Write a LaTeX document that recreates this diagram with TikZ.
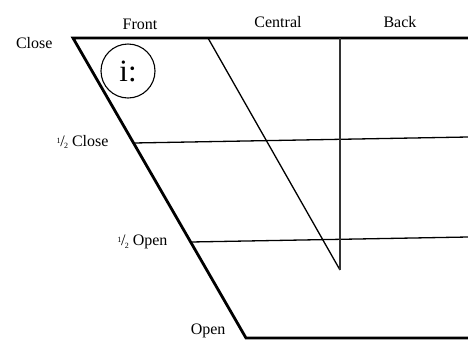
\documentclass[tikz,border=0pt]{standalone}
\usepackage{fontspec}
\setmainfont{Liberation Serif}
\usetikzlibrary{positioning}
\newcommand{\halfmark}{\raisebox{0.4ex}{\footnotesize 1}\kern-0.02em/\kern-0.05em\raisebox{-0.35ex}{\footnotesize 2}}
\begin{document}
\begin{tikzpicture}[x=1pt, y=-1pt, font=\fontsize{16}{18}\selectfont]
    \useasboundingbox [fill=white] (0,0) rectangle (468,341);
    \tikzset{frame/.style={line width=2.8pt, line cap=round}, grid/.style={line width=1.3pt}}

    \coordinate (closeL) at (73,38);
    \coordinate (closeR) at (468,38);
    \coordinate (openL) at (246,338);
    \coordinate (openR) at (468,338);
    \coordinate (hcloseL) at (133.5,143);
    \coordinate (hcloseR) at (468,137);
    \coordinate (hopenL) at (190.6,242);
    \coordinate (hopenR) at (468,237);
    \coordinate (centralT) at (208,38);
    \coordinate (backT) at (340,38);
    \coordinate (schwa) at (340,270);

    \draw [frame] (closeR) -- (closeL) -- (openL) -- (openR);
    \draw [grid] (hcloseL) -- (hcloseR);
    \draw [grid] (hopenL) -- (hopenR);
    \draw [grid] (centralT) -- (schwa);
    \draw [grid, black!80] (backT) -- (schwa);

    \node [draw, circle, line width=1.1pt, minimum size=54pt, inner sep=0pt, font=\fontsize{31}{34}\selectfont] (ivowel) at (128,71) {i:};

    \node (front) at (140,24) {Front};
    \node (central) at (278,22) {Central};
    \node (back) at (400,22) {Back};
    \node [anchor=east] (close) at (56,43) {Close};
    \node [anchor=east] (hclose) at (112,142) {\halfmark\ Close};
    \node [anchor=east] (hopen) at (171,242) {\halfmark\ Open};
    \node [anchor=east] (open) at (229,331) {Open};
\end{tikzpicture}
\end{document}
